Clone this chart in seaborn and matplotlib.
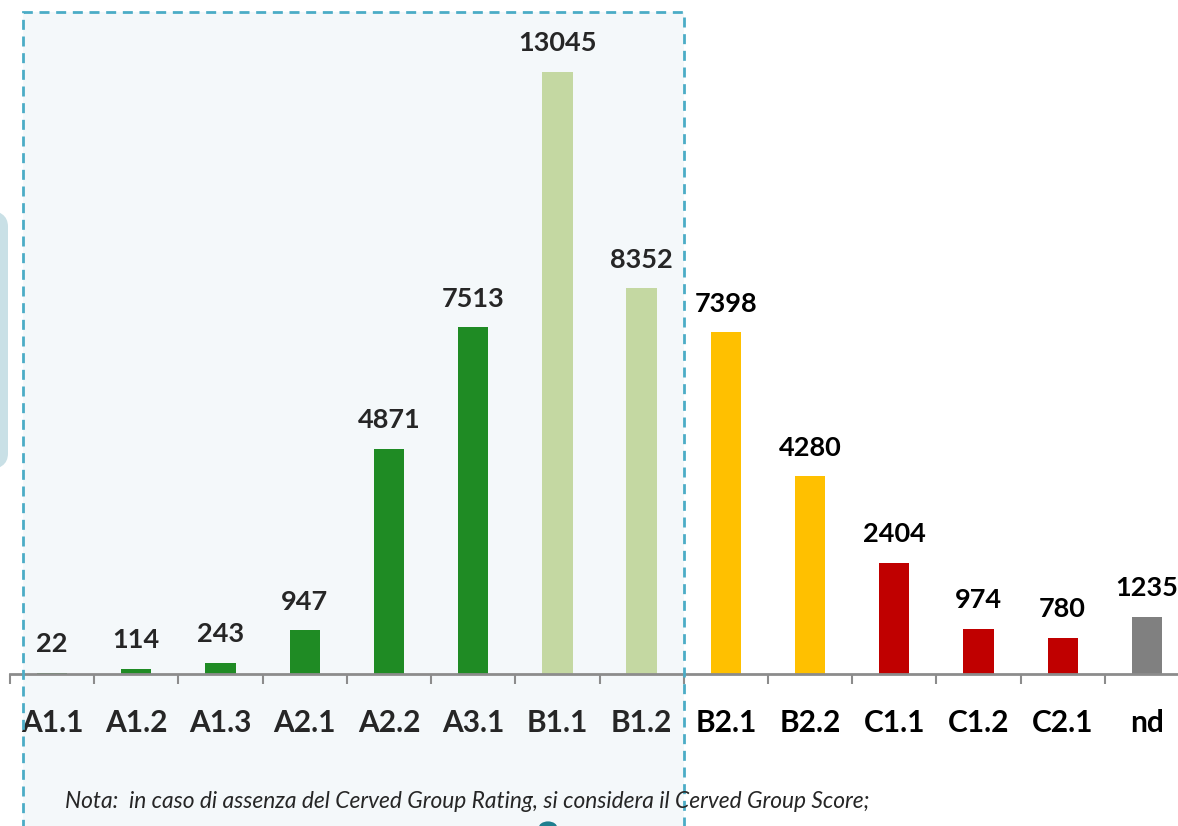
import matplotlib
matplotlib.use("Agg")
import matplotlib.pyplot as plt
from matplotlib.patches import Rectangle, FancyBboxPatch, Circle
import numpy as np
import seaborn as sns

# data
ratings = ["A1.1", "A1.2", "A1.3", "A2.1", "A2.2", "A3.1", "B1.1", "B1.2",
           "B2.1", "B2.2", "C1.1", "C1.2", "C2.1", "nd"]
counts = [22, 114, 243, 947, 4871, 7513, 13045, 8352,
          7398, 4280, 2404, 974, 780, 1235]
bar_colors = ["#1f8b24"] * 6 + ["#c4d8a2"] * 2 + ["#ffc000"] * 2 + ["#c00000"] * 3 + ["#808080"]
note = "Nota:  in caso di assenza del Cerved Group Rating, si considera il Cerved Group Score;"

W, H = 1178, 826
fig = plt.figure(figsize=(W / 100, H / 100), dpi=100)
fig.patch.set_facecolor("white")


def fx(x):
    return x / W


def fy(y):
    return (H - y) / H


# decorations from the slide behind the chart
fig.patches.append(FancyBboxPatch((fx(-40), fy(470)), fx(48), fy(210) - fy(470),
                                  boxstyle="round,pad=0,rounding_size=0.02",
                                  transform=fig.transFigure, facecolor="#c9e0e6",
                                  edgecolor="none", zorder=0))
fig.patches.append(Rectangle((fx(23), fy(830)), fx(684) - fx(23), fy(12) - fy(830),
                             transform=fig.transFigure, facecolor="#f4f8fa",
                             edgecolor="none", zorder=0))

ax = fig.add_axes([fx(10), fy(674), 1179 / W, 674 / H])
ax.set_zorder(1)
ax.patch.set_alpha(0)
sns.barplot(x=ratings, y=counts, hue=ratings, palette=bar_colors, width=0.36,
            saturation=1, legend=False, ax=ax, zorder=2)
ax.set_xlim(-0.5, 13.5)
ax.set_ylim(0, 14600)

for i, cont in enumerate(ax.containers):
    col = "#262626" if i < 8 else "black"
    ax.bar_label(cont, labels=[str(counts[i])], padding=12, fontsize=19.5,
                 fontweight="bold", family="Lato", color=col)

for s in ["top", "left", "right"]:
    ax.spines[s].set_visible(False)
ax.spines["bottom"].set_color("#8c8c8c")
ax.spines["bottom"].set_linewidth(2)
ax.set_yticks([])
ax.set_xticks(range(len(ratings)))
ax.set_xticklabels(ratings, fontsize=21.5, fontweight="bold", family="Lato")
for i, lab in enumerate(ax.get_xticklabels()):
    lab.set_color("#262626" if i < 8 else "black")
ax.set_xticks(np.arange(-0.5, len(ratings), 1), minor=True)
ax.tick_params(axis="x", which="major", length=0, pad=25)
ax.tick_params(axis="x", which="minor", length=7, width=1.5, color="#8c8c8c")
ax.set_xlabel("")
ax.set_ylabel("")

# dashed frame on top
ax.add_patch(Rectangle((fx(23), fy(830)), fx(684) - fx(23), fy(12) - fy(830),
                       transform=fig.transFigure, facecolor="none",
                       edgecolor="#4bacc6", linestyle=(0, (3.6, 2.4)),
                       linewidth=2, zorder=5, clip_on=False))
ax.add_patch(Circle((fx(548), fy(828)), 0.008, transform=fig.transFigure,
                    facecolor="#1f7f8f", edgecolor="none", zorder=6, clip_on=False))

fig.text(fx(65), fy(801), note, fontsize=16.4, style="italic", family="Lato",
         color="#262626", va="center", ha="left", zorder=7)

fig.savefig("out.png", dpi=100)
